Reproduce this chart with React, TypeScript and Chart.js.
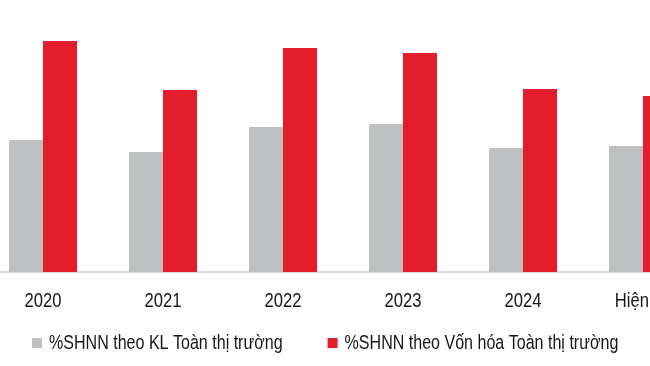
import React, { useEffect, useRef } from "react";
import { Chart, registerables } from "chart.js";

Chart.register(...registerables);

const categories = ["2020", "2021", "2022", "2023", "2024", "Hiện tại"];
const seriesNames = [
  "%SHNN theo KL Toàn thị trường",
  "%SHNN theo Vốn hóa Toàn thị trường",
];
const klValues = [13.2, 12.0, 14.5, 14.8, 12.4, 12.6];
const vhValues = [23.1, 18.2, 22.4, 21.9, 18.3, 17.6];

const FONT = "'Liberation Sans', Arial, sans-serif";
const TICK_SQUEEZE = 0.83;
const LEGEND_SQUEEZE = 0.823;
let squeeze = TICK_SQUEEZE;

// The reference uses a narrow typeface: draw every text horizontally condensed.
const condensePlugin = {
  id: "condense",
  beforeDraw(chart: any) {
    const ctx = chart.ctx;
    if (ctx.__origFillText) return;
    const orig = ctx.fillText;
    ctx.__origFillText = orig;
    ctx.fillText = function (t: string, x: number, y: number, mw?: number) {
      const w = this.measureText(t).width * squeeze;
      return orig.call(this, t, x, y, mw !== undefined ? Math.min(mw, w) : w);
    };
  },
};

const legendPlugin = {
  id: "customLegend",
  afterDraw(chart: any) {
    const { ctx, chartArea } = chart;
    ctx.save();
    squeeze = LEGEND_SQUEEZE;
    ctx.font = `19.5px ${FONT}`;
    ctx.textBaseline = "alphabetic";
    ctx.textAlign = "left";
    let x = chartArea.left + 49;
    const baseline = 349;
    chart.data.datasets.forEach((ds: any) => {
      ctx.fillStyle = ds.backgroundColor;
      ctx.fillRect(x, baseline - 11, 10, 10);
      ctx.fillStyle = "#161616";
      ctx.fillText(ds.label, x + 17, baseline);
      x += 17 + ctx.measureText(ds.label).width * squeeze + 45;
    });
    squeeze = TICK_SQUEEZE;
    ctx.restore();
  },
};

export default function App() {
  const ref = useRef<HTMLCanvasElement>(null);
  useEffect(() => {
    if (!ref.current) return;
    const chart = new Chart(ref.current, {
      type: "bar",
      data: {
        labels: categories,
        datasets: [
          { label: seriesNames[0], data: klValues, backgroundColor: "#bebfc1" },
          { label: seriesNames[1], data: vhValues, backgroundColor: "#e31d2b" },
        ],
      },
      options: {
        animation: false,
        responsive: false,
        layout: { padding: { top: 0, left: 0, right: 0, bottom: 36 } },
        datasets: { bar: { barPercentage: 1, categoryPercentage: 0.567 } },
        plugins: { legend: { display: false }, tooltip: { enabled: false } },
        scales: {
          x: {
            type: "category",
            offset: true,
            grid: { display: false, drawTicks: false, tickLength: 0 },
            border: { display: true, color: "#dcdcdc", width: 2 },
            ticks: {
              autoSkip: false,
              maxRotation: 0,
              padding: 17,
              color: "#161616",
              font: { family: FONT, size: 20 },
            },
          },
          y: { display: false, min: 0, max: 27.2 },
        },
      },
      plugins: [condensePlugin, legendPlugin],
    });
    return () => chart.destroy();
  }, []);
  return (
    <div style={{ position: "fixed", left: 0, top: 0, width: 650, height: 366, overflow: "hidden", background: "#fff" }}>
      <canvas ref={ref} width={720} height={366} style={{ position: "absolute", left: -17, top: 0, width: 720, height: 366 }} />
    </div>
  );
}
